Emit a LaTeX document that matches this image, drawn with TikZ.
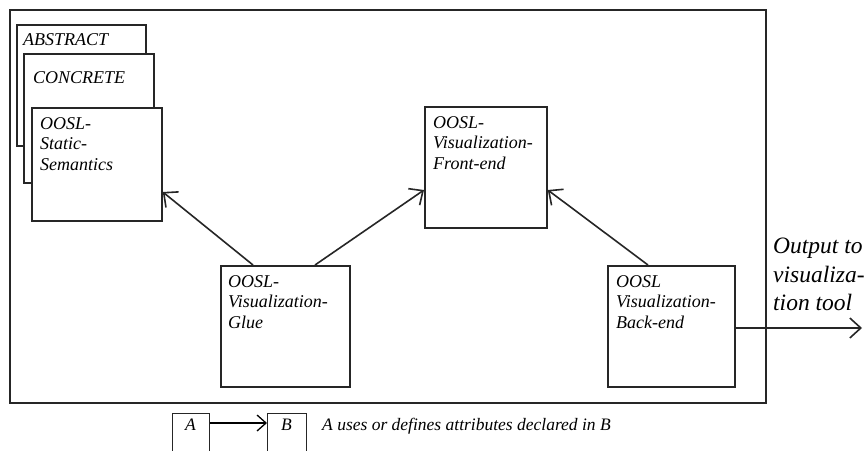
\documentclass[tikz,border=0pt]{standalone}
\usepackage{fontspec}
\setmainfont{Liberation Serif}
\usetikzlibrary{arrows.meta,calc}
\begin{document}
\begin{tikzpicture}[x=1pt,y=-1pt,
  box/.style={draw=black!85,line width=1.8pt,fill=white,inner sep=0pt,anchor=north west},
  txt/.style={anchor=north west,inner sep=0pt,align=left,
    font=\fontsize{18}{20.5}\selectfont\itshape},
  bigtxt/.style={anchor=north west,inner sep=0pt,align=left,
    font=\fontsize{23.5}{28.5}\selectfont\itshape},
  legtxt/.style={inner sep=0pt,font=\fontsize{17.5}{20}\selectfont\itshape},
  barb/.tip={Straight Barb[length=11pt,width=20pt,line width=1.6pt]},
  uses/.style={line width=1.6pt,draw=black!85,-barb}]
\useasboundingbox (0,0) rectangle (867,450);
\begin{scope}
\clip (0,0) rectangle (867,450);

% outer frame
\node[box,line width=2.2pt,minimum width=756pt,minimum height=393pt] (frame) at (9,9) {};

% stacked static-semantics modules
\node[box,minimum width=129pt,minimum height=121pt] (abstract) at (16,24) {};
\node[txt] (abstracttxt) at ([shift={(7,9)}]abstract.north west) {ABSTRACT};
\node[box,minimum width=130pt,minimum height=129pt] (concrete) at (23,53) {};
\node[txt] (concretetxt) at ([shift={(10,18)}]concrete.north west) {CONCRETE};
\node[box,minimum width=130pt,minimum height=113pt] (static) at (31,107) {};
\node[txt] (statictxt) at ([shift={(9,10)}]static.north west) {OOSL-\\Static-\\Semantics};

% visualization modules
\node[box,minimum width=122pt,minimum height=121pt] (front) at (424,106) {};
\node[txt] (fronttxt) at ([shift={(9,10)}]front.north west) {OOSL-\\Visualization-\\Front-end};
\node[box,minimum width=129pt,minimum height=121pt] (glue) at (220,265) {};
\node[txt] (gluetxt) at ([shift={(8,10)}]glue.north west) {OOSL-\\Visualization-\\Glue};
\node[box,minimum width=127pt,minimum height=121pt] (back) at (607,265) {};
\node[txt] (backtxt) at ([shift={(9,10)}]back.north west) {OOSL\\Visualization-\\Back-end};

% dependencies
\draw[uses] ([xshift=33]glue.north west) -- ([yshift=-85]static.north east);
\draw[uses] ([xshift=95]glue.north west) -- ([yshift=-84]front.north west);
\draw[uses] ([xshift=41]back.north west) -- ([yshift=-84]front.north east);

% output of the back-end
\coordinate (out) at (862,328);
\draw[uses] (back.east |- out) -- (out);
\node[bigtxt] (outtxt) at (773,238) {Output to\\visualiza-\\tion tool};

% legend
\node[box,line width=1.3pt,minimum width=37pt,minimum height=50pt] (la) at (172,413) {};
\node[box,line width=1.3pt,minimum width=39pt,minimum height=50pt] (lb) at (267,413) {};
\node[legtxt] (latxt) at (190.5,425) {A};
\node[legtxt] (lbtxt) at (286.5,425) {B};
\draw[line width=1.3pt,-{Straight Barb[length=9pt,width=16pt,line width=1.3pt]}]
  (la.east |- 0,423) -- (lb.west |- 0,423);
\node[legtxt,anchor=west] (legtxt) at (322,426) {A uses or defines attributes declared in B};
\end{scope}
\end{tikzpicture}
\end{document}
